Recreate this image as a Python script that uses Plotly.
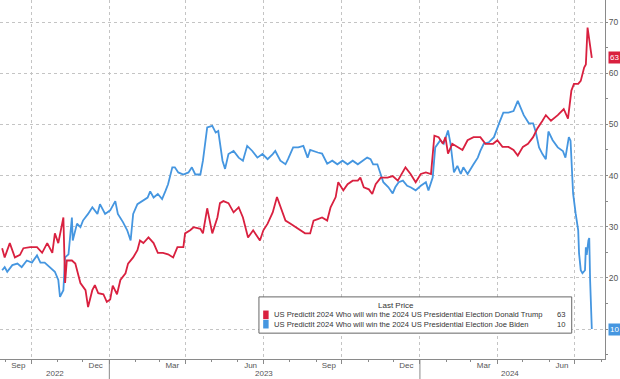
import plotly.graph_objects as go

# ---------------- data ----------------
trump_dates = ["2022-08-28","2022-08-31","2022-09-06","2022-09-12","2022-09-18","2022-09-22","2022-09-30",
"2022-10-08","2022-10-14","2022-10-20","2022-10-26","2022-10-29","2022-11-02","2022-11-08","2022-11-10",
"2022-11-12","2022-11-18","2022-11-22","2022-11-28","2022-12-04","2022-12-07","2022-12-12","2022-12-15",
"2022-12-19","2022-12-25","2022-12-29","2023-01-02","2023-01-05","2023-01-10","2023-01-14","2023-01-20",
"2023-01-23","2023-01-29","2023-02-03","2023-02-06","2023-02-10","2023-02-16","2023-02-22","2023-02-27",
"2023-03-05","2023-03-11","2023-03-17","2023-03-22","2023-03-29","2023-03-31","2023-04-06","2023-04-10",
"2023-04-18","2023-04-21","2023-04-26","2023-05-02","2023-05-08","2023-05-11","2023-05-15","2023-05-21",
"2023-05-27","2023-06-02","2023-06-07","2023-06-13","2023-06-19","2023-06-27","2023-07-01","2023-07-06",
"2023-07-12","2023-07-17","2023-07-23","2023-07-27","2023-08-02","2023-08-08","2023-08-14","2023-08-19",
"2023-08-25","2023-08-29","2023-09-03","2023-09-08","2023-09-14","2023-09-18","2023-09-24","2023-09-27",
"2023-10-03","2023-10-08","2023-10-14","2023-10-20","2023-10-23","2023-10-27","2023-11-02","2023-11-06",
"2023-11-10","2023-11-16","2023-11-24","2023-11-30","2023-12-06","2023-12-09","2023-12-15","2023-12-21",
"2023-12-27","2024-01-02","2024-01-08","2024-01-14","2024-01-18","2024-01-23","2024-01-28","2024-01-31",
"2024-02-03","2024-02-08","2024-02-14","2024-02-20","2024-02-26","2024-03-04","2024-03-12","2024-03-18",
"2024-03-27","2024-04-01","2024-04-07","2024-04-14","2024-04-20","2024-04-25","2024-05-01","2024-05-07",
"2024-05-13","2024-05-18","2024-05-24","2024-05-28","2024-06-03","2024-06-11","2024-06-18","2024-06-23",
"2024-06-27","2024-06-30","2024-07-05","2024-07-08","2024-07-12","2024-07-14","2024-07-16","2024-07-21"]
trump_values = [25.8,24.0,26.8,24.0,24.5,25.8,26.0,
26.0,24.9,26.8,24.9,28.7,26.8,31.8,19.0,
23.4,23.4,22.8,19.0,17.6,14.3,17.6,18.6,
17.0,16.8,15.3,15.8,18.5,16.8,19.6,20.9,
22.8,24.0,25.4,27.3,26.8,27.9,26.8,24.9,
24.9,24.6,24.0,26.0,26.0,28.7,29.3,29.9,
29.6,28.7,33.6,28.7,31.8,34.6,35.0,34.6,
32.8,33.8,31.8,27.9,29.3,27.3,29.3,30.6,
32.8,35.8,33.2,31.2,30.6,29.9,29.3,28.7,
28.7,31.2,31.5,31.8,31.2,33.8,35.8,38.7,
37.1,38.3,39.0,39.0,39.6,37.7,37.3,36.4,
38.3,39.6,39.6,39.9,39.0,39.9,41.6,40.3,
38.7,40.3,40.6,40.3,47.8,47.5,46.2,47.5,
44.3,46.2,45.6,45.0,46.9,47.5,47.5,46.2,
46.2,46.9,45.6,45.6,45.0,43.9,45.6,46.2,
47.5,49.2,50.7,51.8,50.7,51.8,53.0,51.1,
56.6,57.9,57.9,58.5,61.1,61.7,68.9,63.0]

biden_dates = ["2022-08-28","2022-08-31","2022-09-03","2022-09-09","2022-09-15","2022-09-20","2022-09-26",
"2022-10-02","2022-10-08","2022-10-12","2022-10-17","2022-10-23","2022-10-29","2022-11-02","2022-11-04",
"2022-11-08","2022-11-10","2022-11-14","2022-11-18","2022-11-19","2022-11-24","2022-11-28","2022-12-01",
"2022-12-07","2022-12-12","2022-12-18","2022-12-21","2022-12-27","2023-01-02","2023-01-08","2023-01-11",
"2023-01-17","2023-01-22","2023-01-26","2023-01-29","2023-02-03","2023-02-09","2023-02-15","2023-02-18",
"2023-02-22","2023-02-27","2023-03-04","2023-03-08","2023-03-11","2023-03-16","2023-03-19","2023-03-23",
"2023-03-29","2023-04-04","2023-04-08","2023-04-12","2023-04-18","2023-04-21","2023-04-26","2023-05-02",
"2023-05-06","2023-05-09","2023-05-14","2023-05-17","2023-05-21","2023-05-27","2023-06-02","2023-06-07",
"2023-06-12","2023-06-18","2023-06-24","2023-06-30","2023-07-06","2023-07-12","2023-07-15","2023-07-21",
"2023-07-27","2023-07-30","2023-08-05","2023-08-11","2023-08-17","2023-08-22","2023-08-25","2023-09-03",
"2023-09-08","2023-09-14","2023-09-20","2023-09-26","2023-10-02","2023-10-08","2023-10-14","2023-10-20",
"2023-10-26","2023-10-31","2023-11-04","2023-11-07","2023-11-12","2023-11-16","2023-11-19","2023-11-25",
"2023-11-30","2023-12-03","2023-12-07","2023-12-12","2023-12-17","2023-12-21","2023-12-27","2024-01-02",
"2024-01-08","2024-01-11","2024-01-16","2024-01-19","2024-01-25","2024-01-29","2024-02-03","2024-02-06",
"2024-02-10","2024-02-14","2024-02-18","2024-02-21","2024-02-26","2024-03-04","2024-03-09","2024-03-12",
"2024-03-16","2024-03-22","2024-03-28","2024-04-03","2024-04-08","2024-04-14","2024-04-20","2024-04-25",
"2024-04-28","2024-05-02","2024-05-08","2024-05-13","2024-05-16","2024-05-20","2024-05-24","2024-05-28",
"2024-05-31","2024-06-05","2024-06-11","2024-06-17","2024-06-20","2024-06-24","2024-06-26","2024-06-29",
"2024-07-02","2024-07-05","2024-07-06","2024-07-08","2024-07-10","2024-07-13","2024-07-14","2024-07-15",
"2024-07-17","2024-07-18","2024-07-19","2024-07-21"]
biden_values = [21.5,22.1,21.2,22.5,22.8,22.1,23.4,
23.0,24.4,23.0,23.0,22.1,21.2,19.6,16.3,
17.6,24.0,24.6,31.8,27.3,30.6,29.9,31.2,
32.5,33.8,32.5,34.4,32.5,33.2,35.0,32.5,
30.9,29.3,27.3,32.5,34.4,35.0,35.7,36.9,
35.7,36.4,35.4,37.0,38.3,41.6,41.6,40.6,
40.2,40.6,41.6,40.2,40.2,42.9,49.4,49.7,
48.4,48.7,42.9,41.3,44.2,44.8,43.5,42.9,
45.8,44.8,43.5,44.2,43.2,44.2,44.8,42.9,
42.2,43.2,45.5,45.5,45.8,43.5,45.0,44.5,
44.3,42.3,42.9,42.2,42.9,42.2,42.9,42.2,
42.9,43.5,43.2,42.2,42.2,40.4,38.7,37.7,
36.5,37.7,38.7,39.0,38.0,37.7,37.1,38.0,
38.7,37.1,39.6,45.5,46.9,46.2,48.8,46.2,
40.6,41.9,40.3,41.6,40.3,42.2,43.5,44.8,
46.2,46.5,47.5,50.2,52.3,52.3,52.6,54.6,
53.3,51.8,50.2,50.2,48.6,45.5,44.2,43.2,
48.6,46.9,45.5,44.8,43.5,47.5,46.8,36.5,
32.6,29.3,24.8,21.5,20.9,21.5,26.0,24.5,
27.3,27.8,19.6,10.0]

trump_name = "US PredictIt 2024 Who will win the 2024 US Presidential Election Donald Trump"
biden_name = "US PredictIt 2024 Who will win the 2024 US Presidential Election Joe Biden"
trump_last = "63"
biden_last = "10"

grid_dates = ["2022-10-01","2023-01-01","2023-04-01","2023-07-01","2023-10-01","2024-01-01","2024-04-01","2024-07-01"]
month_label_dates = ["2022-09-16","2022-12-16","2023-03-16","2023-06-16","2023-09-16","2023-12-16","2024-03-16","2024-06-16"]
month_labels = ["Sep","Dec","Mar","Jun","Sep","Dec","Mar","Jun"]
year_label_dates = ["2022-10-29","2023-07-02","2024-04-16"]
year_labels = ["2022","2023","2024"]
year_breaks = ["2023-01-01","2024-01-01"]
y_ticks = [10,20,30,40,50,60,70]

X_RANGE = ["2022-08-25 12:00","2024-08-05 12:00"]
Y_RANGE = [4.15, 74.3]

RED = "#d9203f"
BLUE = "#4596e0"
GRID = "#c4c4c4"
AXIS = "#8a8a8a"
TXT = "#555555"
FONT = "Liberation Sans, Arial, sans-serif"

fig = go.Figure()
fig.add_trace(go.Scatter(x=biden_dates, y=biden_values, mode="lines",
                         line=dict(color=BLUE, width=1.8), showlegend=False, hoverinfo="skip"))
fig.add_trace(go.Scatter(x=trump_dates, y=trump_values, mode="lines",
                         line=dict(color=RED, width=1.8), showlegend=False, hoverinfo="skip"))
# invisible trace bound to the label axis
fig.add_trace(go.Scatter(x=[X_RANGE[0]], y=[None], xaxis="x2", showlegend=False, hoverinfo="skip"))

fig.update_layout(
    width=620, height=379,
    margin=dict(l=0, r=15, t=0, b=20),
    paper_bgcolor="white", plot_bgcolor="white",
    font=dict(family=FONT, color=TXT),
    xaxis=dict(type="date", range=X_RANGE, tickvals=grid_dates, showticklabels=False,
               ticks="outside", ticklen=4, tickcolor=AXIS,
               showgrid=True, gridcolor=GRID, griddash="dot", gridwidth=1,
               showline=True, linecolor=AXIS, linewidth=1, zeroline=False,
               minor=dict(ticks="outside", ticklen=2, tickcolor=AXIS, dtick="M1",
                          tick0="2022-09-01", showgrid=False)),
    xaxis2=dict(type="date", range=X_RANGE, overlaying="x", anchor="y", side="bottom",
                tickvals=month_label_dates, ticktext=month_labels, ticks="",
                showgrid=False, showline=False, zeroline=False,
                tickfont=dict(size=8, color=TXT, family=FONT)),
    yaxis=dict(range=Y_RANGE, side="right", tickvals=y_ticks, ticks="outside", ticklen=2,
               tickcolor=AXIS, showgrid=True, gridcolor=GRID, griddash="dot", gridwidth=1,
               showline=True, linecolor=AXIS, linewidth=1, zeroline=False,
               ticklabelstandoff=-1,
               tickfont=dict(size=8.5, color=TXT, family=FONT),
               minor=dict(ticks="outside", ticklen=2, tickcolor=AXIS, dtick=5, showgrid=False)),
)

# year labels and separators
for d, t in zip(year_label_dates, year_labels):
    fig.add_annotation(x=d, y=-0.039, xref="x", yref="paper", text=t, showarrow=False,
                       font=dict(size=8, color=TXT), xanchor="center", yanchor="middle")
for d in year_breaks:
    fig.add_shape(type="line", xref="x", yref="paper", x0=d, x1=d, y0=0, y1=-0.06,
                  line=dict(color=AXIS, width=1))

# last-value tags on the right axis
fig.add_annotation(x=1, xref="paper", y=trump_values[-1], yref="y", text=trump_last,
                   showarrow=False, xanchor="left", xshift=3, bgcolor=RED,
                   font=dict(size=8, color="white"), borderpad=1)
fig.add_annotation(x=1, xref="paper", y=biden_values[-1], yref="y", text=biden_last,
                   showarrow=False, xanchor="left", xshift=3, bgcolor=BLUE,
                   font=dict(size=8, color="white"), borderpad=1)

# custom legend box
fig.add_shape(type="rect", xref="paper", yref="paper", x0=0.428, x1=0.945, y0=0.072, y1=0.173,
              line=dict(color="#666666", width=1), fillcolor="white", layer="above")
fig.add_annotation(x=0.688, y=0.148, xref="paper", yref="paper", text="Last Price",
                   showarrow=False, font=dict(size=8, color="#333333"), yanchor="middle")
rows = [(0.123, RED, trump_name, trump_last), (0.097, BLUE, biden_name, biden_last)]
for yy, col, name, last in rows:
    fig.add_shape(type="rect", xref="paper", yref="paper", x0=0.435, x1=0.444,
                  y0=yy - 0.012, y1=yy + 0.012, line=dict(width=0), fillcolor=col, layer="above")
    fig.add_annotation(x=0.449, y=yy, xref="paper", yref="paper", text=name, showarrow=False,
                       xanchor="left", yanchor="middle", font=dict(size=7.6, color="#333333"))
    fig.add_annotation(x=0.937, y=yy, xref="paper", yref="paper", text=last, showarrow=False,
                       xanchor="right", yanchor="middle", font=dict(size=7.6, color="#333333"))

fig.write_html("out.html", config={"displayModeBar": False},
               post_script="document.body.style.margin='0';")
